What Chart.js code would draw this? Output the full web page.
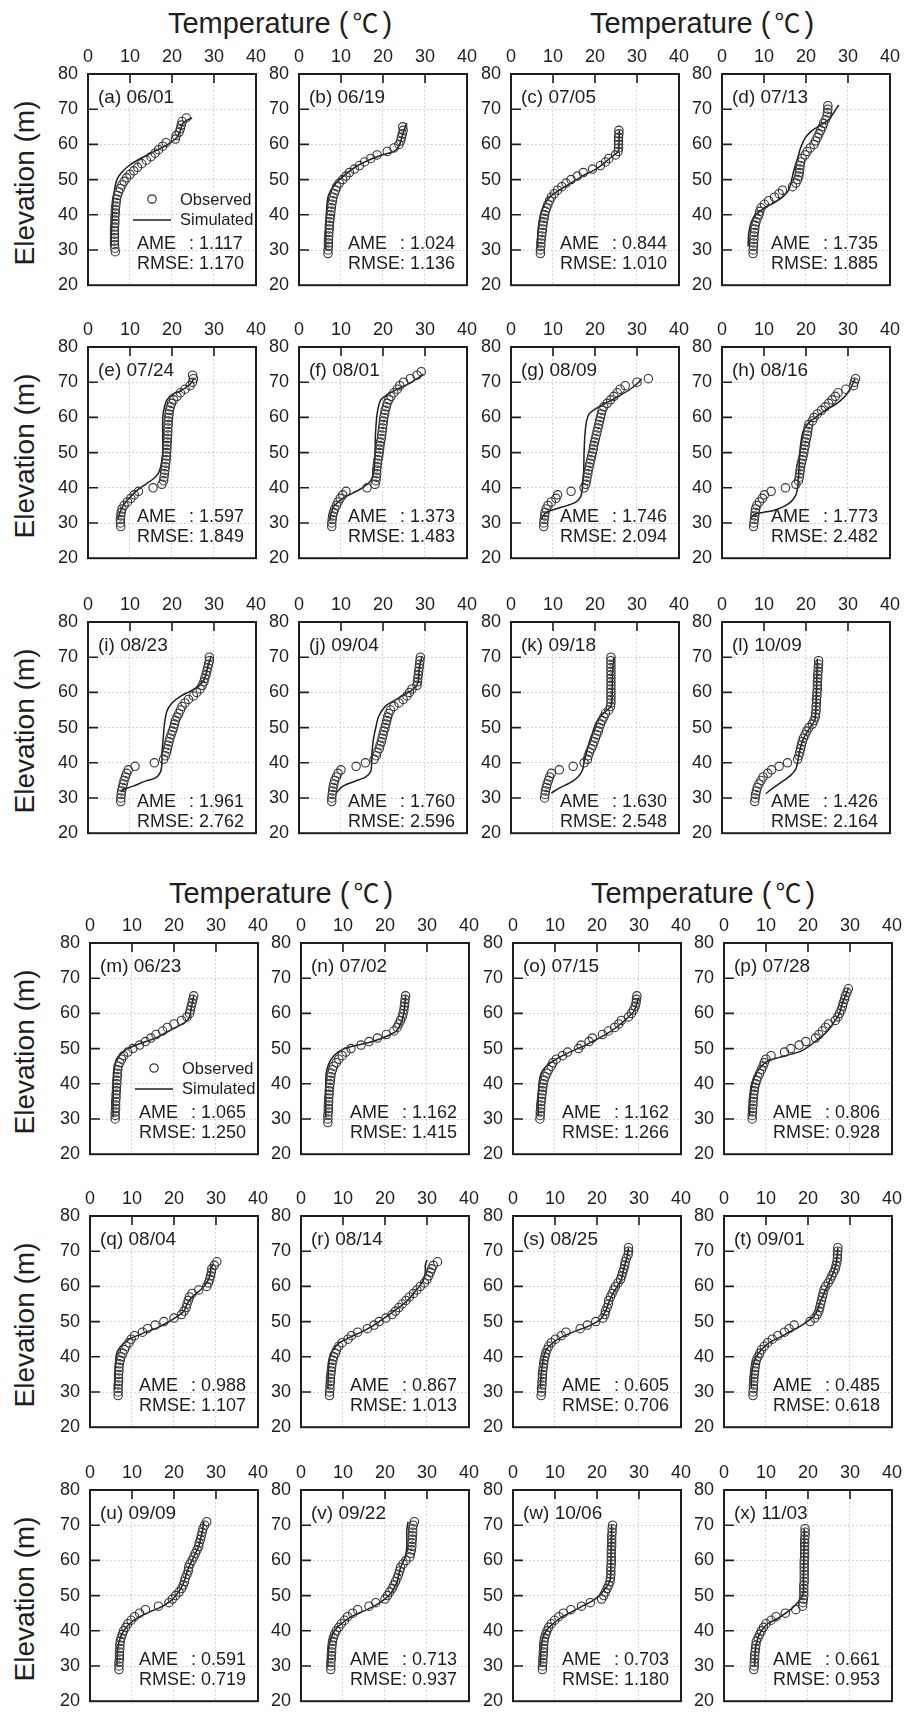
<!DOCTYPE html>
<html lang="en">
<head>
    <meta charset="UTF-8">
    <title>Observed vs simulated temperature profiles</title>
    <script src="https://cdnjs.cloudflare.com/ajax/libs/Chart.js/4.4.0/chart.umd.min.js"></script>
    <style>
        body {
            margin: 0;
            padding: 0;
            background: #ffffff;
        }
        #figure {
            position: relative;
            width: 907px;
            height: 1717px;
            font-family: 'Liberation Sans', 'Noto Sans CJK KR', sans-serif;
            color: #1e1e1e;
        }
        #figure canvas {
            position: absolute;
        }
        .xtitle {
            position: absolute;
            width: 420px;
            height: 34px;
            line-height: 34px;
            font-size: 29px;
            text-align: center;
            white-space: nowrap;
        }
        .xtitle .unit {
            font-family: 'Noto Sans CJK KR', 'Noto Sans CJK SC', sans-serif;
            font-size: 26px;
            margin: 0 4px;
        }
        .ytitle {
            position: absolute;
            width: 230px;
            height: 34px;
            line-height: 34px;
            font-size: 28px;
            text-align: center;
            white-space: nowrap;
            transform: rotate(-90deg);
        }
    </style>
</head>
<body>
    <div id="figure"></div>

    <script>
        // panel captions and error statistics
        const panelLabels = ['(a) 06/01', '(b) 06/19', '(c) 07/05', '(d) 07/13',
                             '(e) 07/24', '(f) 08/01', '(g) 08/09', '(h) 08/16',
                             '(i) 08/23', '(j) 09/04', '(k) 09/18', '(l) 10/09',
                             '(m) 06/23', '(n) 07/02', '(o) 07/15', '(p) 07/28',
                             '(q) 08/04', '(r) 08/14', '(s) 08/25', '(t) 09/01',
                             '(u) 09/09', '(v) 09/22', '(w) 10/06', '(x) 11/03'];
        const ameValues = ['1.117', '1.024', '0.844', '1.735', '1.597', '1.373', '1.746', '1.773',
                           '1.961', '1.760', '1.630', '1.426', '1.065', '1.162', '1.162', '0.806',
                           '0.988', '0.867', '0.605', '0.485', '0.591', '0.713', '0.703', '0.661'];
        const rmseValues = ['1.170', '1.136', '1.010', '1.885', '1.849', '1.483', '2.094', '2.482',
                            '2.762', '2.596', '2.548', '2.164', '1.250', '1.415', '1.266', '0.928',
                            '1.107', '1.013', '0.706', '0.618', '0.719', '0.937', '1.180', '0.953'];

        // observed profiles: elevation (m) and temperature (C)
        const obsE_a = [29.5,30.5,31.5,32.5,33.5,34.5,35.5,36.5,37.5,38.5,39.5,40.5,41.5,42.5,43.5,44.5,45.5,46.5,47.5,48.5,49.5,50.5,51.5,52.5,53.5,54.5,55.5,56.5,57.5,58.5,59.5,60.5,61.5,62.5,63.5,64.5,65.5,66.5,67.5];
        const obsT_a = [6.5,6.4,6.3,6.3,6.3,6.3,6.3,6.3,6.4,6.4,6.4,6.5,6.5,6.6,6.7,6.8,7.0,7.3,7.7,8.1,8.6,9.2,10.0,10.9,11.8,12.8,13.9,15.0,16.0,16.8,17.8,18.6,20.8,21.0,21.7,22.0,22.2,22.4,23.4];
        const obsE_b = [29,30,31,32,33,34,35,36,37,38,39,40,41,42,43,44,45,46,47,48,49,50,51,52,53,54,55,56,57,58,59,60,61,62,63,64,65];
        const obsT_b = [6.9,6.9,7.0,7.0,7.0,7.1,7.1,7.2,7.2,7.3,7.4,7.5,7.6,7.7,7.8,8.0,8.1,8.4,8.7,9.0,9.6,10.4,11.2,12.0,13.2,14.4,15.6,17.1,18.6,21.0,22.6,23.8,24.2,24.4,24.6,24.8,24.7];
        const obsE_c = [29,30,31,32,33,34,35,36,37,38,39,40,41,42,43,44,45,46,47,48,49,50,51,52,53,54,55,56,57,58,59,60,61,62,63,64];
        const obsT_c = [7.0,7.0,7.1,7.1,7.2,7.3,7.4,7.5,7.6,7.7,7.9,8.0,8.2,8.5,8.8,9.2,9.6,10.3,11.1,12.1,13.1,14.3,15.8,17.2,19.4,21.3,22.5,23.3,24.9,25.5,25.6,25.6,25.6,25.6,25.7,25.7];
        const obsE_d = [29,30,31,32,33,34,35,36,37,38,39,40,41,42,43,44,45,46,47,48,49,50,51,52,53,54,55,56,57,58,59,60,61,62,63,64,65,66,67,68,69,70,71];
        const obsT_d = [7.4,7.4,7.5,7.5,7.6,7.6,7.7,7.8,7.9,8.1,8.4,8.8,9.0,9.3,10.1,11.1,12.5,13.6,14.4,16.8,17.6,18.0,18.3,18.4,18.5,18.6,18.7,19.1,19.8,20.3,21.0,21.9,22.3,22.7,23.1,23.5,23.9,24.2,24.6,25.0,25.1,25.2,25.2];
        const obsE_e = [29,30,31,32,33,34,35,36,37,38,39,40,41,42,43,44,45,46,47,48,49,50,51,52,53,54,55,56,57,58,59,60,61,62,63,64,65,66,67,68,69,70,71,72];
        const obsT_e = [7.8,7.7,7.7,7.8,7.9,8.1,8.6,9.4,10.2,11.0,12.0,15.5,17.6,18.0,18.1,18.2,18.3,18.4,18.5,18.6,18.7,18.7,18.8,18.8,18.9,18.9,19.0,19.0,19.0,19.1,19.1,19.2,19.3,19.4,19.6,19.9,20.4,21.2,22.0,23.1,24.3,24.9,25.1,24.9];
        const obsE_f = [29,30,31,32,33,34,35,36,37,38,39,40,41,42,43,44,45,46,47,48,49,50,51,52,53,54,55,56,57,58,59,60,61,62,63,64,65,66,67,68,69,70,71,72,73];
        const obsT_f = [7.8,7.8,7.9,8.0,8.2,8.5,8.9,9.3,9.8,10.4,11.2,16.2,18.1,18.3,18.4,18.5,18.5,18.6,18.7,18.8,19.0,19.1,19.2,19.3,19.4,19.6,19.7,19.8,19.9,20.0,20.1,20.2,20.4,20.5,20.8,21.0,21.4,21.9,22.6,23.4,24.0,24.9,26.5,28.1,29.1];
        const obsE_g = [29,30,31,32,33,34,35,36,37,38,39,40,41,42,43,44,45,46,47,48,49,50,51,52,53,54,55,56,57,58,59,60,61,62,63,64,65,66,67,68,69,70,71];
        const obsT_g = [7.8,7.8,7.9,8.0,8.1,8.4,8.8,9.6,10.7,11.1,14.3,17.4,17.8,18.0,18.1,18.3,18.4,18.6,18.8,19.0,19.2,19.4,19.6,19.7,19.9,20.1,20.3,20.5,20.7,20.9,21.1,21.3,21.5,21.7,22.1,22.9,23.7,24.5,25.3,26.0,27.2,30.0,32.7];
        const obsE_h = [29,30,31,32,33,34,35,36,37,38,39,40,41,42,43,44,45,46,47,48,49,50,51,52,53,54,55,56,57,58,59,60,61,62,63,64,65,66,67,68,69,70,71];
        const obsT_h = [7.5,7.6,7.7,7.8,7.9,8.0,8.3,8.9,9.6,10.1,11.7,15.1,17.6,18.2,18.4,18.5,18.6,18.7,18.9,19.1,19.3,19.5,19.6,19.8,19.9,20.1,20.3,20.4,20.5,20.7,21.5,21.9,22.7,23.7,24.6,25.4,26.2,27.0,27.6,29.5,31.3,31.5,31.8];
        const obsE_i = [29,30,31,32,33,34,35,36,37,38,39,40,41,42,43,44,45,46,47,48,49,50,51,52,53,54,55,56,57,58,59,60,61,62,63,64,65,66,67,68,69,70];
        const obsT_i = [7.8,7.8,7.9,8.0,8.2,8.4,8.6,8.9,9.2,9.6,11.2,15.8,18.0,18.4,18.7,18.9,19.1,19.3,19.5,19.8,20.1,20.4,20.6,20.8,21.2,21.6,22.0,22.4,23.1,23.9,25.1,25.9,26.7,27.2,27.6,27.8,28.1,28.3,28.5,28.7,28.9,28.9];
        const obsE_j = [29,30,31,32,33,34,35,36,37,38,39,40,41,42,43,44,45,46,47,48,49,50,51,52,53,54,55,56,57,58,59,60,61,62,63,64,65,66,67,68,69,70];
        const obsT_j = [7.8,7.8,7.9,8.0,8.1,8.3,8.5,8.9,9.3,10.0,13.6,15.8,17.9,18.4,18.6,19.1,19.3,19.6,19.8,20.0,20.2,20.5,20.7,20.9,21.1,21.4,21.8,22.6,23.8,24.8,25.7,26.3,26.9,28.1,28.2,28.3,28.4,28.5,28.6,28.7,28.8,28.9];
        const obsE_k = [30,31,32,33,34,35,36,37,38,39,40,41,42,43,44,45,46,47,48,49,50,51,52,53,54,55,56,57,58,59,60,61,62,63,64,65,66,67,68,69,70];
        const obsT_k = [8.0,8.1,8.2,8.4,8.6,8.9,9.2,9.6,11.5,14.8,17.4,18.2,18.4,18.7,19.1,19.5,19.8,20.1,20.4,20.8,21.0,21.3,21.7,22.1,22.5,23.3,23.7,23.8,23.8,23.8,23.8,23.8,23.8,23.8,23.8,23.8,23.8,23.8,23.8,23.8,23.8];
        const obsE_l = [29,30,31,32,33,34,35,36,37,38,39,40,41,42,43,44,45,46,47,48,49,50,51,52,53,54,55,56,57,58,59,60,61,62,63,64,65,66,67,68,69];
        const obsT_l = [7.8,7.9,8.0,8.2,8.4,8.8,9.3,9.8,10.9,11.8,13.6,15.6,18.0,18.3,18.5,18.7,18.9,19.1,19.4,19.8,20.2,20.7,21.5,21.9,22.2,22.3,22.4,22.4,22.5,22.5,22.6,22.6,22.7,22.7,22.7,22.8,22.8,22.9,22.9,23.0,23.0];
        const obsE_m = [30,31,32,33,34,35,36,37,38,39,40,41,42,43,44,45,46,47,48,49,50,51,52,53,54,55,56,57,58,59,60,61,62,63,64,65];
        const obsT_m = [6.0,6.0,6.0,6.1,6.1,6.1,6.2,6.2,6.3,6.3,6.4,6.4,6.5,6.5,6.6,6.7,7.1,7.5,8.0,9.0,10.2,11.8,13.2,14.5,15.7,17.3,18.4,20.0,21.8,23.1,23.7,23.9,24.1,24.3,24.5,24.7];
        const obsE_n = [29,30,31,32,33,34,35,36,37,38,39,40,41,42,43,44,45,46,47,48,49,50,51,52,53,54,55,56,57,58,59,60,61,62,63,64,65];
        const obsT_n = [6.4,6.4,6.4,6.5,6.5,6.5,6.6,6.6,6.7,6.7,6.8,6.9,7.0,7.1,7.2,7.5,7.8,8.4,9.0,9.8,10.7,11.9,14.3,16.2,18.2,20.3,22.1,22.9,23.3,23.7,24.1,24.3,24.5,24.6,24.7,24.8,24.9];
        const obsE_o = [30,31,32,33,34,35,36,37,38,39,40,41,42,43,44,45,46,47,48,49,50,51,52,53,54,55,56,57,58,59,60,61,62,63,64,65];
        const obsT_o = [6.4,6.5,6.5,6.6,6.6,6.7,6.8,6.9,7.0,7.1,7.2,7.4,7.7,8.1,8.5,9.1,9.5,10.3,11.8,13.0,15.6,16.2,18.1,18.9,21.3,22.7,24.2,25.2,25.8,27.5,28.2,28.7,29.1,29.3,29.4,29.5];
        const obsE_p = [30,31,32,33,34,35,36,37,38,39,40,41,42,43,44,45,46,47,48,49,50,51,52,53,54,55,56,57,58,59,60,61,62,63,64,65,66,67];
        const obsT_p = [6.7,6.7,6.8,6.8,6.9,6.9,7.0,7.1,7.2,7.3,7.5,7.8,8.1,8.5,8.9,9.3,9.6,10.0,11.2,14.4,15.9,17.9,19.5,21.8,22.6,23.4,24.2,24.9,26.5,27.1,27.5,27.9,28.2,28.4,28.7,28.9,29.3,29.6];
        const obsE_q = [29,30,31,32,33,34,35,36,37,38,39,40,41,42,43,44,45,46,47,48,49,50,51,52,53,54,55,56,57,58,59,60,61,62,63,64,65,66,67];
        const obsT_q = [6.7,6.7,6.7,6.7,6.8,6.8,6.8,6.9,6.9,7.0,7.2,7.4,7.8,8.2,8.6,9.3,9.8,10.6,12.5,13.7,15.5,17.6,20.0,21.8,22.4,22.9,23.1,23.4,23.7,24.3,25.9,27.8,28.2,28.5,28.7,28.9,29.0,29.6,30.2];
        const obsE_r = [29,30,31,32,33,34,35,36,37,38,39,40,41,42,43,44,45,46,47,48,49,50,51,52,53,54,55,56,57,58,59,60,61,62,63,64,65,66,67];
        const obsT_r = [6.8,6.8,6.9,6.9,7.0,7.0,7.1,7.2,7.3,7.4,7.6,7.8,8.2,8.5,9.0,9.8,11.2,12.0,13.5,15.8,17.4,18.6,20.2,21.7,22.5,23.3,24.1,25.0,25.8,26.8,27.6,28.4,29.4,30.0,30.4,30.8,31.1,31.5,32.5];
        const obsE_s = [29,30,31,32,33,34,35,36,37,38,39,40,41,42,43,44,45,46,47,48,49,50,51,52,53,54,55,56,57,58,59,60,61,62,63,64,65,66,67,68,69,70,71];
        const obsT_s = [6.7,6.8,6.8,6.9,6.9,7.0,7.0,7.1,7.2,7.3,7.4,7.6,7.8,8.1,8.5,9.1,10.1,11.5,12.6,16.0,17.7,19.7,21.4,21.9,22.0,22.4,22.7,22.8,23.2,23.6,24.0,24.4,25.0,25.6,25.9,26.1,26.4,26.6,26.7,27.0,27.4,27.5,27.5];
        const obsE_t = [29,30,31,32,33,34,35,36,37,38,39,40,41,42,43,44,45,46,47,48,49,50,51,52,53,54,55,56,57,58,59,60,61,62,63,64,65,66,67,68,69,70,71];
        const obsT_t = [6.9,6.9,7.0,7.0,7.1,7.1,7.2,7.3,7.4,7.5,7.7,8.1,8.5,8.9,9.6,10.4,11.5,12.8,14.4,15.5,16.7,20.5,21.6,22.2,22.6,22.8,23.0,23.2,23.4,23.6,23.8,24.2,24.8,25.3,25.7,26.1,26.5,26.7,26.9,27.0,27.0,27.1,27.1];
        const obsE_u = [29,30,31,32,33,34,35,36,37,38,39,40,41,42,43,44,45,46,47,48,49,50,51,52,53,54,55,56,57,58,59,60,61,62,63,64,65,66,67,68,69,70,71];
        const obsT_u = [6.9,6.9,6.9,7.0,7.0,7.0,7.1,7.1,7.2,7.4,7.7,8.0,8.5,9.0,9.8,10.6,11.8,13.2,16.3,18.8,19.6,20.4,21.2,21.8,22.2,22.5,22.7,23.1,23.4,23.5,23.8,24.3,24.7,25.1,25.5,25.9,26.0,26.3,26.5,26.7,26.9,27.3,27.8];
        const obsE_v = [29,30,31,32,33,34,35,36,37,38,39,40,41,42,43,44,45,46,47,48,49,50,51,52,53,54,55,56,57,58,59,60,61,62,63,64,65,66,67,68,69,70,71];
        const obsT_v = [7.1,7.1,7.1,7.2,7.2,7.3,7.3,7.4,7.5,7.7,8.0,8.4,9.0,9.6,10.4,11.1,12.3,13.5,16.2,17.8,20.0,20.6,21.1,21.7,22.1,22.5,22.9,23.2,23.5,23.7,24.3,25.0,25.9,26.1,26.3,26.4,26.4,26.5,26.5,26.6,26.6,26.7,27.0];
        const obsE_w = [29,30,31,32,33,34,35,36,37,38,39,40,41,42,43,44,45,46,47,48,49,50,51,52,53,54,55,56,57,58,59,60,61,62,63,64,65,66,67,68,69,70];
        const obsT_w = [7.0,7.0,7.1,7.1,7.2,7.2,7.3,7.3,7.4,7.5,7.8,8.1,8.5,9.1,9.9,10.9,12.0,13.8,16.3,18.4,21.1,21.6,22.0,22.4,22.8,23.1,23.2,23.3,23.3,23.3,23.4,23.4,23.4,23.4,23.4,23.5,23.5,23.5,23.5,23.6,23.6,23.7];
        const obsE_x = [29,30,31,32,33,34,35,36,37,38,39,40,41,42,43,44,45,46,47,48,49,50,51,52,53,54,55,56,57,58,59,60,61,62,63,64,65,66,67,68,69];
        const obsT_x = [7.1,7.2,7.2,7.3,7.3,7.4,7.5,7.6,7.7,8.1,8.5,8.9,9.4,10.0,11.2,12.4,14.6,17.1,18.7,18.8,18.9,19.0,19.0,19.0,19.0,19.1,19.1,19.1,19.1,19.1,19.1,19.1,19.2,19.2,19.2,19.2,19.2,19.2,19.3,19.3,19.3];

        // simulated profiles
        const simE_a = [31, 35, 40, 44, 47, 50, 52, 54, 56, 58, 60, 62, 64, 66, 67, 67.5];
        const simT_a = [5.5, 5.6, 5.8, 6.0, 6.3, 6.9, 8.0, 9.8, 12.5, 15.8, 19.0, 21.2, 22.0, 22.6, 23.8, 24.8];
        const simE_b = [30.2, 35, 40, 45, 48, 50, 52, 54, 56, 57, 58, 59.5, 62, 65, 66];
        const simT_b = [6.4, 6.4, 6.5, 6.9, 8.1, 9.6, 11.6, 14.0, 17.5, 19.8, 22.6, 23.8, 24.5, 25.3, 25.7];
        const simE_c = [30.6, 35, 40, 43, 45, 47, 49, 51, 53, 55, 57, 58, 60, 64];
        const simT_c = [6.4, 6.4, 7.0, 8.0, 9.2, 11.5, 14.3, 17.0, 20.2, 22.5, 24.5, 25.6, 25.7, 25.8];
        const simE_d = [31, 35, 38, 40, 42, 43.5, 45, 46.5, 48, 50, 53, 56, 59, 62, 64, 65.5, 67, 69, 71.2];
        const simT_d = [6.2, 6.4, 7.0, 8.1, 10.1, 12.5, 14.4, 15.6, 16.2, 16.6, 17.2, 18.0, 18.7, 19.9, 21.5, 23.5, 25.4, 26.6, 27.8];
        const simE_e = [31, 33, 35, 37, 39, 41, 42.5, 44, 46, 48, 50, 55, 60, 63, 65, 66.5, 67.5, 69, 70, 71.1];
        const simT_e = [7.1, 7.6, 8.4, 9.8, 11.4, 13.7, 15.5, 16.7, 17.3, 17.6, 17.8, 17.8, 17.8, 18.2, 18.8, 20.0, 22.0, 23.9, 24.7, 25.3];
        const simE_f = [30.6, 33, 35, 37, 38.5, 40, 41.5, 43, 45, 50, 55, 60, 63, 65, 66.5, 68, 69.5, 71, 72.3];
        const simT_f = [7.3, 7.7, 8.5, 10.4, 12.8, 15.1, 16.7, 17.5, 17.9, 18.1, 18.2, 18.5, 18.9, 19.5, 21.0, 23.4, 26.1, 28.1, 29.6];
        const simE_g = [31, 32, 33, 34, 35, 36, 37.5, 40, 45, 50, 55, 59, 61, 62.5, 64, 66, 68, 70, 71];
        const simT_g = [7.2, 7.6, 8.4, 10.7, 13.5, 15.5, 16.6, 17.0, 17.3, 17.4, 17.6, 18.0, 18.6, 20.2, 22.5, 25.6, 28.4, 30.4, 31.1];
        const simE_h = [31.4, 32.5, 33, 33.5, 34.5, 36, 38, 40, 43, 47, 52, 56, 58.5, 60, 62, 64, 66, 68, 70, 71];
        const simT_h = [6.9, 7.8, 9.8, 12.1, 14.4, 16.4, 17.6, 18.0, 18.2, 18.4, 18.7, 19.3, 20.7, 22.3, 24.6, 27.4, 29.3, 30.5, 31.3, 31.7];
        const simE_i = [32.2, 33.3, 34.8, 35.7, 37.5, 39.9, 42.7, 45.5, 48.3, 51, 54.7, 57, 58.9, 60.3, 61.7, 64, 67.7, 70.4];
        const simT_i = [8.0, 10.6, 13.7, 16.1, 17.3, 17.6, 17.6, 17.8, 18.0, 18.2, 18.8, 20.0, 22.0, 24.3, 26.3, 27.8, 28.6, 29.4];
        const simE_j = [31.5, 33.3, 34.7, 36, 37.6, 40.1, 42.9, 46.5, 50.1, 53.3, 56.1, 57.9, 59.5, 61, 63, 66.6, 70.3];
        const simT_j = [8.9, 10.4, 13.2, 15.9, 17.1, 17.3, 17.4, 17.7, 18.3, 19.0, 20.6, 23.0, 25.3, 27.3, 28.4, 28.6, 29.3];
        const simE_k = [31.4, 32.8, 34.2, 35.8, 37.9, 40.2, 43, 45.7, 48.5, 51.2, 53.2, 55, 56.2, 61.3, 65.9, 70];
        const simT_k = [9.6, 11.5, 13.9, 15.8, 17.0, 17.4, 18.0, 18.6, 19.4, 20.2, 21.3, 22.9, 23.9, 24.1, 24.2, 24.5];
        const simE_l = [31.2, 32.8, 34.7, 36.5, 38.3, 40.2, 42.9, 45.7, 48, 50.3, 52.1, 54, 61.3, 69.6];
        const simT_l = [10.4, 12.1, 14.4, 16.4, 17.6, 18.0, 18.4, 19.0, 19.9, 21.1, 22.1, 22.3, 22.5, 22.7];
        const simE_m = [30.4, 35, 42, 45, 47, 49, 50, 51, 52, 53, 54, 55, 56, 57, 58, 59, 62, 65];
        const simT_m = [5.5, 5.5, 5.6, 5.9, 6.3, 7.8, 9.0, 11.0, 13.3, 15.7, 17.3, 18.8, 20.4, 22.0, 23.1, 23.7, 24.2, 24.7];
        const simE_n = [30.4, 35, 40, 43, 45, 47, 49, 50, 51, 52, 53, 54, 55, 57, 60, 65];
        const simT_n = [5.9, 5.9, 5.9, 6.0, 6.4, 7.2, 8.8, 10.4, 13.5, 17.0, 19.4, 21.3, 22.7, 23.7, 24.5, 24.9];
        const simE_o = [30.8, 35, 40, 43, 45, 47, 48.5, 50, 51, 52, 53, 54, 55.5, 57, 59, 60.5, 62, 64.5];
        const simT_o = [6.0, 6.0, 6.2, 6.7, 7.9, 10.3, 12.6, 15.4, 17.3, 18.9, 20.5, 22.0, 24.0, 25.6, 27.5, 28.7, 29.3, 29.9];
        const simE_p = [30.8, 35, 40, 43, 45, 46.5, 47.5, 48.5, 49.5, 51, 52.5, 54, 56, 58, 60, 63, 65, 67];
        const simT_p = [6.1, 6.2, 6.7, 7.7, 8.9, 10.4, 13.2, 16.3, 18.7, 20.6, 22.2, 23.8, 25.3, 26.5, 27.5, 28.2, 28.9, 29.6];
        const simE_q = [30.8, 35, 40, 42, 44, 45.5, 47, 48.5, 50, 51.5, 53, 55, 57, 59, 61, 63, 65, 66.5];
        const simT_q = [5.9, 6.0, 6.2, 6.7, 8.2, 10.2, 13.3, 16.5, 18.8, 20.8, 22.4, 23.1, 24.3, 26.3, 27.8, 28.5, 28.8, 29.4];
        const simE_r = [30.8, 35, 40, 42, 44, 45.5, 47, 48.5, 50, 52, 54, 56, 58, 60, 62, 64, 66, 67.5];
        const simT_r = [6.4, 6.5, 6.8, 7.6, 9.2, 11.6, 14.3, 16.7, 18.6, 21.0, 23.3, 25.3, 26.8, 28.2, 29.2, 29.6, 29.6, 30.0];
        const simE_s = [31.2, 35, 40, 42, 44, 45.5, 47, 48, 49, 50, 51, 52, 54, 56, 58, 60, 62, 64, 66, 68, 71];
        const simT_s = [6.5, 6.7, 7.3, 7.9, 9.5, 11.5, 14.2, 16.5, 18.5, 20.1, 21.1, 21.6, 22.4, 23.0, 23.8, 24.8, 25.8, 26.2, 26.6, 27.1, 27.5];
        const simE_t = [31.2, 35, 38, 40, 42, 44, 45.5, 47, 48.5, 50, 51.5, 53, 55, 57, 59, 61, 63, 65, 68, 71];
        const simT_t = [6.5, 6.6, 7.0, 7.7, 8.9, 10.8, 13.2, 15.5, 17.9, 19.8, 21.4, 22.2, 22.7, 23.4, 24.2, 24.9, 25.7, 26.4, 26.9, 27.1];
        const simE_u = [30.2, 35, 38, 40, 42, 44, 45.5, 47, 48.5, 50, 52, 54, 56, 58, 60, 62, 64, 66, 68, 71];
        const simT_u = [6.4, 6.6, 7.2, 8.0, 9.4, 11.8, 14.5, 17.3, 19.2, 20.4, 21.6, 22.4, 22.9, 23.5, 24.3, 25.1, 25.9, 26.3, 26.7, 27.1];
        const simE_v = [29.8, 35, 38, 40, 42, 44, 45.5, 47, 48.5, 50, 52, 54, 56, 58, 60, 62, 64, 66, 68.5, 71];
        const simT_v = [6.4, 6.6, 7.2, 8.0, 9.6, 12.0, 14.7, 17.4, 19.4, 20.9, 22.1, 22.9, 23.3, 23.7, 24.5, 25.0, 25.2, 25.2, 25.2, 25.5];
        const simE_w = [29.8, 35, 38, 40, 42, 44, 45.5, 47, 48.5, 50, 52, 53.5, 55, 60, 65, 70];
        const simT_w = [6.5, 6.7, 7.1, 7.9, 9.5, 11.8, 14.2, 16.5, 18.9, 20.5, 22.0, 22.8, 23.2, 23.3, 23.4, 23.5];
        const simE_x = [30.2, 35, 38, 40, 42, 43.5, 45, 46.5, 48, 49.5, 51, 55, 60, 69];
        const simT_x = [7.3, 7.5, 8.1, 8.9, 10.4, 12.8, 14.7, 16.3, 17.5, 18.5, 18.9, 18.9, 19.0, 19.1];

        const obsElev = [obsE_a, obsE_b, obsE_c, obsE_d, obsE_e, obsE_f, obsE_g, obsE_h, obsE_i, obsE_j, obsE_k, obsE_l,
                         obsE_m, obsE_n, obsE_o, obsE_p, obsE_q, obsE_r, obsE_s, obsE_t, obsE_u, obsE_v, obsE_w, obsE_x];
        const obsTemp = [obsT_a, obsT_b, obsT_c, obsT_d, obsT_e, obsT_f, obsT_g, obsT_h, obsT_i, obsT_j, obsT_k, obsT_l,
                         obsT_m, obsT_n, obsT_o, obsT_p, obsT_q, obsT_r, obsT_s, obsT_t, obsT_u, obsT_v, obsT_w, obsT_x];
        const simElev = [simE_a, simE_b, simE_c, simE_d, simE_e, simE_f, simE_g, simE_h, simE_i, simE_j, simE_k, simE_l,
                         simE_m, simE_n, simE_o, simE_p, simE_q, simE_r, simE_s, simE_t, simE_u, simE_v, simE_w, simE_x];
        const simTemp = [simT_a, simT_b, simT_c, simT_d, simT_e, simT_f, simT_g, simT_h, simT_i, simT_j, simT_k, simT_l,
                         simT_m, simT_n, simT_o, simT_p, simT_q, simT_r, simT_s, simT_t, simT_u, simT_v, simT_w, simT_x];

        // page layout (plot area corners in px)
        const colLeft = [[88, 299, 511, 722], [90, 301, 513, 724]];
        const rowTop = [74, 347, 622, 943, 1216, 1490];
        const PLOT_W = 170, PLOT_H = 218;
        const AXIS_W = 44, AXIS_H = 34, PAD_R = 14, PAD_B = 14;
        const statLift = [41, 41, 31, 41, 41, 41];
        const INK = '#1e1e1e';
        const FONT = "'Liberation Sans', Arial, sans-serif";

        Chart.defaults.font.family = FONT;
        Chart.defaults.color = INK;

        // frame, inward ticks, captions, stats and legend
        const panelDecor = {
            id: 'panelDecor',
            afterDraw(chart, args, opts) {
                const {ctx, chartArea: a, scales: {x, y}} = chart;
                ctx.save();
                ctx.strokeStyle = INK;
                ctx.lineWidth = 1.6;
                ctx.beginPath();
                x.ticks.slice(1, -1).forEach(t => {
                    const px = x.getPixelForValue(t.value);
                    ctx.moveTo(px, a.top);
                    ctx.lineTo(px, a.top + 9);
                });
                y.ticks.slice(1, -1).forEach(t => {
                    const py = y.getPixelForValue(t.value);
                    ctx.moveTo(a.left, py);
                    ctx.lineTo(a.left + 10, py);
                });
                ctx.stroke();
                ctx.lineWidth = 2;
                ctx.strokeRect(a.left, a.top, a.right - a.left, a.bottom - a.top);

                ctx.fillStyle = INK;
                ctx.textBaseline = 'middle';
                ctx.textAlign = 'left';
                ctx.font = '19px ' + FONT;
                ctx.fillText(opts.label, a.left + 10, a.top + 24);

                ctx.font = '18px ' + FONT;
                const sx = a.left + 49;
                const colonX = sx + ctx.measureText('RMSE').width;
                ctx.fillText('AME', sx, a.bottom - opts.lift);
                ctx.fillText(': ' + opts.ame, colonX, a.bottom - opts.lift);
                ctx.fillText('RMSE: ' + opts.rmse, sx, a.bottom - opts.lift + 20);

                if (opts.legend) {
                    ctx.lineWidth = 1.2;
                    ctx.strokeStyle = '#333';
                    ctx.beginPath();
                    ctx.arc(a.left + 64, a.top + 125, 4.2, 0, Math.PI * 2);
                    ctx.stroke();
                    ctx.lineWidth = 1.5;
                    ctx.strokeStyle = INK;
                    ctx.beginPath();
                    ctx.moveTo(a.left + 45, a.top + 146);
                    ctx.lineTo(a.left + 83, a.top + 146);
                    ctx.stroke();
                    ctx.font = '16.5px ' + FONT;
                    ctx.fillText('Observed', a.left + 92, a.top + 126);
                    ctx.fillText('Simulated', a.left + 92, a.top + 146);
                }
                ctx.restore();
            }
        };

        const figure = document.getElementById('figure');

        function addText(cls, left, top) {
            const div = document.createElement('div');
            div.className = cls;
            div.style.left = left + 'px';
            div.style.top = top + 'px';
            figure.appendChild(div);
            return div;
        }

        // axis titles
        [[280, 22], [702, 22], [281, 892], [703, 892]].forEach(([cx, cy]) => {
            const div = addText('xtitle', cx - 210, cy - 17);
            div.append('Temperature (');
            const unit = document.createElement('span');
            unit.className = 'unit';
            unit.textContent = '℃';
            div.append(unit, ')');
        });
        rowTop.forEach(top => {
            addText('ytitle', 25 - 115, top + PLOT_H / 2 - 17).textContent = 'Elevation (m)';
        });

        panelLabels.forEach((label, i) => {
            const row = Math.floor(i / 4);
            const col = i % 4;
            const group = row < 3 ? 0 : 1;

            const canvas = document.createElement('canvas');
            canvas.width = AXIS_W + PLOT_W + PAD_R;
            canvas.height = AXIS_H + PLOT_H + PAD_B;
            canvas.style.left = (colLeft[group][col] - AXIS_W) + 'px';
            canvas.style.top = (rowTop[row] - AXIS_H) + 'px';
            figure.appendChild(canvas);

            new Chart(canvas, {
                type: 'scatter',
                data: {
                    datasets: [{
                        label: 'Observed',
                        data: obsElev[i].map((e, k) => ({x: obsTemp[i][k], y: e})),
                        pointStyle: 'circle',
                        pointRadius: 4.2,
                        pointBorderWidth: 1.1,
                        pointBorderColor: '#333',
                        pointBackgroundColor: 'rgba(0,0,0,0)',
                        showLine: false
                    }, {
                        label: 'Simulated',
                        data: simElev[i].map((e, k) => ({x: simTemp[i][k], y: e})),
                        showLine: true,
                        pointRadius: 0,
                        borderColor: INK,
                        borderWidth: 1.5,
                        tension: 0.3,
                        fill: false
                    }]
                },
                options: {
                    responsive: false,
                    animation: false,
                    events: [],
                    layout: { padding: { left: 0, top: 0, right: PAD_R, bottom: PAD_B } },
                    plugins: {
                        legend: { display: false },
                        tooltip: { enabled: false },
                        panelDecor: {
                            label: label,
                            ame: ameValues[i],
                            rmse: rmseValues[i],
                            lift: statLift[row],
                            legend: i === 0 || i === 12
                        }
                    },
                    scales: {
                        x: {
                            type: 'linear',
                            position: 'top',
                            min: 0,
                            max: 40,
                            ticks: { stepSize: 10, padding: 6, color: INK, font: { size: 18 } },
                            grid: { color: '#c9c9c9', lineWidth: 1, drawTicks: false },
                            border: { display: false, dash: [1.5, 2.5] },
                            afterFit: scale => { scale.height = AXIS_H; }
                        },
                        y: {
                            type: 'linear',
                            position: 'left',
                            min: 20,
                            max: 80,
                            ticks: { stepSize: 10, padding: 10, color: INK, font: { size: 18 } },
                            grid: { color: '#c9c9c9', lineWidth: 1, drawTicks: false },
                            border: { display: false, dash: [1.5, 2.5] },
                            afterFit: scale => { scale.width = AXIS_W; }
                        }
                    }
                },
                plugins: [panelDecor]
            });
        });
    </script>
</body>
</html>
